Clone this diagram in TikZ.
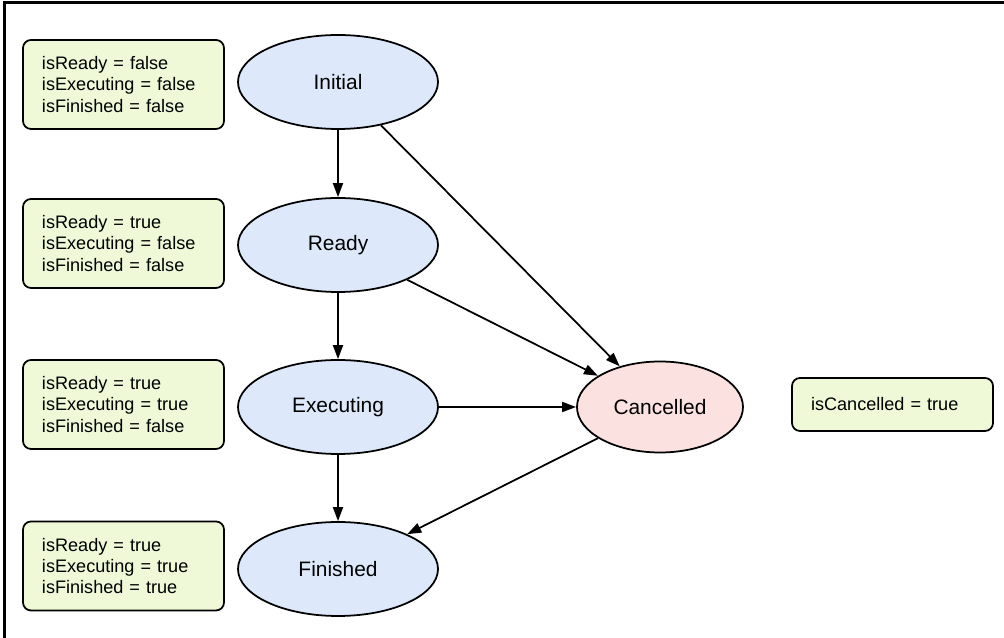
\documentclass[tikz,border=0pt]{standalone}
\usepackage{fontspec}
\setmainfont{Liberation Sans}
\usetikzlibrary{shapes.geometric,arrows.meta}
\definecolor{stateblue}{RGB}{221,233,251}
\definecolor{statered}{RGB}{252,225,225}
\definecolor{flaggreen}{RGB}{239,249,216}

\begin{document}
\begin{tikzpicture}[line width=1pt, font=\fontsize{10.3}{12.2}\selectfont,
    state/.style={ellipse, draw, fill=stateblue, inner sep=0pt, minimum width=4cm, minimum height=1.88cm, font=\fontsize{11.9}{14}\selectfont},
    flags/.style={rectangle, rounded corners=0.16cm, draw, fill=flaggreen, text width=3.26cm, align=left, inner xsep=0.38cm, minimum height=1.78cm},
    trans/.style={-{Triangle[length=0.28cm, width=0.2cm]}}]
    \useasboundingbox (0,0) rectangle (20.08,12.76);
    \draw[line width=1.6pt] (0.09,0) -- (0.09,12.71) -- (20.08,12.71);

    \node[state] (initial) at (6.76,11.12) {Initial};
    \node[state] (ready) at (6.76,7.86) {Ready};
    \node[state] (executing) at (6.76,4.62) {Executing};
    \node[state] (finished) at (6.76,1.38) {Finished};
    \node[state, fill=statered, minimum width=3.32cm, minimum height=1.82cm] (cancelled) at (13.2,4.62) {Cancelled};

    \node[flags] (f1) at (2.47,11.07) {isReady = false\\isExecuting = false\\isFinished = false};
    \node[flags] (f2) at (2.47,7.89) {isReady = true\\isExecuting = false\\isFinished = false};
    \node[flags] (f3) at (2.47,4.67) {isReady = true\\isExecuting = true\\isFinished = false};
    \node[flags] (f4) at (2.47,1.44) {isReady = true\\isExecuting = true\\isFinished = true};
    \node[flags, minimum height=1.06cm] (f5) at (17.85,4.67) {isCancelled = true};

    \draw[trans] (initial) -- (ready);
    \draw[trans] (ready) -- (executing);
    \draw[trans] (executing) -- (finished);
    \draw[trans] (initial) -- (cancelled);
    \draw[trans] (ready) -- (cancelled);
    \draw[trans] (executing) -- (cancelled);
    \draw[trans] (cancelled) -- (finished);
\end{tikzpicture}
\end{document}
